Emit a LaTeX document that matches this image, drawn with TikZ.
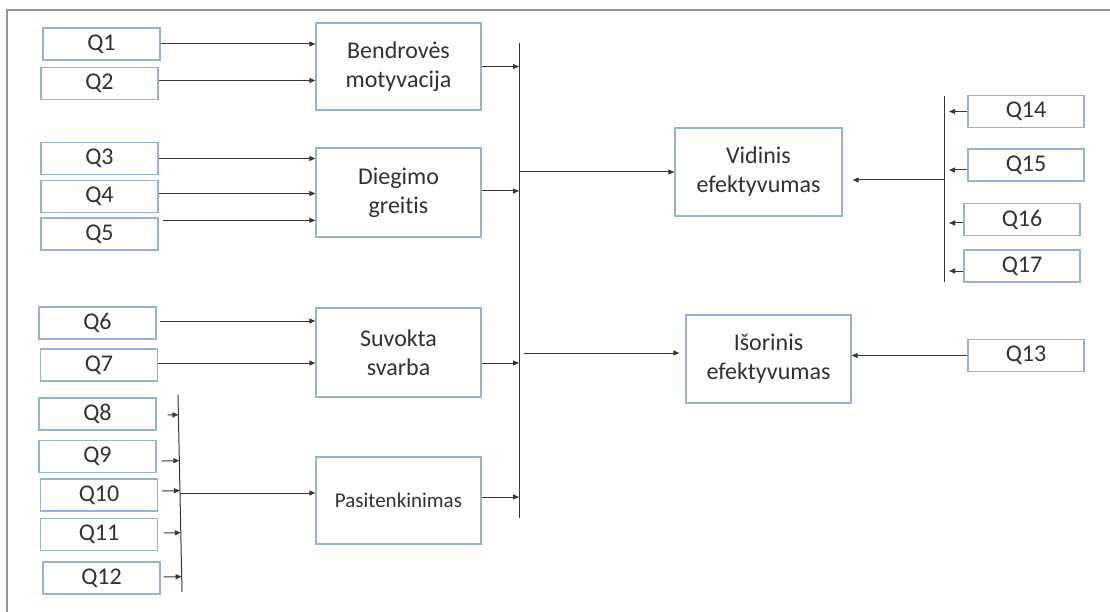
\documentclass[tikz,border=0pt]{standalone}
\usepackage{fontspec}
\setmainfont{Carlito}[Ligatures=NoCommon]
\usetikzlibrary{arrows.meta,calc}
\definecolor{boxblue}{RGB}{150,178,214}
\definecolor{linegray}{RGB}{55,55,55}
\definecolor{txtgray}{RGB}{50,50,50}
\definecolor{framegray}{RGB}{150,150,150}
\begin{document}
\begin{tikzpicture}[x=1pt,y=-1pt,
  qbox/.style={draw=boxblue, line width=1.3pt, fill=white, minimum width=117pt, minimum height=32pt, inner sep=0pt, font=\fontsize{24}{29}\selectfont, text=txtgray},
  bigbox/.style={draw=boxblue, line width=1.3pt, minimum width=165pt, minimum height=88pt, inner sep=0pt, align=center, font=\fontsize{24}{29}\selectfont, text=txtgray},
  arr/.style={draw=linegray, line width=1pt, -{Triangle[length=6pt,width=5pt]}},
  bus/.style={draw=linegray, line width=1pt}]
\useasboundingbox (0,0) rectangle (1110,612);
\fill[white] (0,0) rectangle (1110,612);
\draw[framegray, line width=1.5pt] (7,612) -- (7,10) -- (1110,10);

% left question boxes
\node[qbox] (q1) at (101.5,44) {Q1};
\node[qbox] (q2) at (99.5,83.5) {Q2};
\node[qbox] (q3) at (99.5,158.5) {Q3};
\node[qbox] (q4) at (99.5,196.5) {Q4};
\node[qbox] (q5) at (99.5,234) {Q5};
\node[qbox] (q6) at (97.5,323) {Q6};
\node[qbox] (q7) at (99,365) {Q7};
\node[qbox] (q8) at (97.5,414) {Q8};
\node[qbox] (q9) at (97.5,456.5) {Q9};
\node[qbox] (q10) at (99,495) {Q10};
\node[qbox] (q11) at (99,534.5) {Q11};
\node[qbox] (q12) at (101.5,578) {Q12};

% construct boxes
\node[bigbox, minimum height=87pt] (b1) at (398.5,66.5) {Bendrovės\\motyvacija};
\node[bigbox, minimum height=89pt] (b2) at (398.5,192.5) {Diegimo\\greitis};
\node[bigbox, minimum height=89pt] (b3) at (398.5,352.5) {Suvokta\\svarba};
\node[bigbox, minimum height=87pt, font=\fontsize{21}{25}\selectfont] (b4) at (398.5,500.5) {Pasitenkinimas};
\node[bigbox, minimum width=167pt] (v) at (758.5,172) {Vidinis\\efektyvumas};
\node[bigbox] (i) at (768.5,359) {Išorinis\\efektyvumas};

% right question boxes
\node[qbox, minimum width=116pt] (q14) at (1026,111.5) {Q14};
\node[qbox, minimum width=116pt] (q15) at (1026,165) {Q15};
\node[qbox, minimum width=116pt] (q16) at (1022,219.5) {Q16};
\node[qbox, minimum width=116pt] (q17) at (1022,266) {Q17};
\node[qbox, minimum width=116pt] (q13) at (1026,355.5) {Q13};

% buses
\coordinate (mbt) at (519,43);
\coordinate (mbb) at (519,518);
\coordinate (sbt) at (178,395);
\coordinate (sbb) at (182,592);
\coordinate (rbt) at (944,96);
\coordinate (rbb) at (944,282);
\draw[bus] (mbt) -- (mbb);
\draw[bus] (sbt) -- (sbb);
\draw[bus] (rbt) -- (rbb);

% Q -> constructs
\draw[arr] (q1.east) -- (q1.east -| b1.west);
\coordinate (q2o) at ([yshift=3pt]q2.east);
\draw[arr] (q2o) -- (q2o -| b1.west);
\draw[arr] (q3.east) -- (q3.east -| b2.west);
\coordinate (q4o) at ([yshift=3pt]q4.east);
\draw[arr] (q4o) -- (q4o -| b2.west);
\coordinate (q5o) at ([xshift=4pt,yshift=-3pt]q5.north east);
\draw[arr] (q5o) -- (q5o -| b2.west);
\coordinate (q6o) at ([xshift=3pt,yshift=2pt]q6.east);
\draw[arr] (q6o) -- (q6o -| b3.west);
\coordinate (q7o) at ([yshift=2pt]q7.east);
\draw[arr] (q7o) -- (q7o -| b3.west);

% Q8-Q12 -> small bus
\coordinate (s8) at ([xshift=11pt,yshift=-1pt]q8.east);
\coordinate (s9) at ([xshift=5pt,yshift=-4.5pt]q9.east);
\coordinate (s10) at ([xshift=4pt,yshift=4pt]q10.east);
\coordinate (s11) at ([xshift=6pt,yshift=1.5pt]q11.east);
\coordinate (s12) at ([xshift=3pt,yshift=1pt]q12.east);
\foreach \s in {s8,s9,s10,s11,s12}
  \draw[arr] (\s) -- ($(sbt)!(\s)!(sbb)$);
\coordinate (sbo) at (180,493);
\draw[arr] (sbo) -- (sbo -| b4.west);

% constructs -> main bus
\draw[arr] (b1.east) -- (b1.east -| mbt);
\coordinate (b2o) at ([yshift=1.5pt]b2.east);
\draw[arr] (b2o) -- (b2o -| mbt);
\coordinate (b3o) at ([yshift=-10.5pt]b3.east);
\draw[arr] (b3o) -- (b3o -| mbt);
\coordinate (b4o) at ([yshift=3.5pt]b4.east);
\draw[arr] (b4o) -- (b4o -| mbt);

% main bus -> outcomes
\draw[arr] (v.west -| mbt) -- (v.west);
\coordinate (iin) at ([yshift=6pt]i.west);
\draw[arr, shorten >=6pt] ($(iin -| mbt)+(5,0)$) -- (iin);

% right side
\coordinate (vin) at ([yshift=-8pt]v.east);
\draw[arr, shorten >=10pt] (vin -| rbt) -- (vin);
\draw[arr] (q13.west) -- (q13.west -| i.east);
\draw[arr, shorten >=5pt] (q14.west) -- (q14.west -| rbt);
\coordinate (q15o) at ([yshift=-5pt]q15.west);
\draw[arr, shorten >=5pt] (q15o) -- (q15o -| rbt);
\coordinate (q16o) at ([yshift=-3.5pt]q16.west);
\draw[arr, shorten >=5pt] (q16o) -- (q16o -| rbt);
\coordinate (q17o) at ([yshift=-5pt]q17.west);
\draw[arr, shorten >=5pt] (q17o) -- (q17o -| rbt);
\end{tikzpicture}
\end{document}
